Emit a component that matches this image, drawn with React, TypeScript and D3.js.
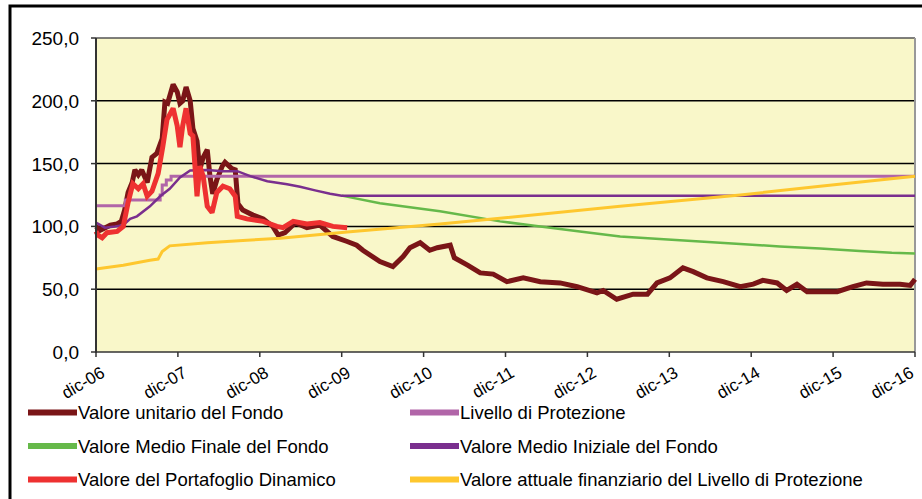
import * as d3 from "d3";

// x is months since dic-06, y is the value
const xTickLabels = ["dic-06", "dic-07", "dic-08", "dic-09", "dic-10", "dic-11", "dic-12", "dic-13", "dic-14", "dic-15", "dic-16"];
const yTicks = [0, 50, 100, 150, 200, 250];

const valoreUnitario: [number, number][] = [
  [0, 100], [0.6, 97], [1.0, 98], [2.1, 101], [3.1, 102], [3.7, 104], [4.2, 113], [4.7, 127],
  [5.3, 135], [5.7, 145], [6.2, 141], [6.7, 145], [7.5, 135], [8.2, 155], [8.9, 158], [9.7, 170],
  [10.1, 199], [10.5, 198], [11.3, 213], [11.9, 207], [12.3, 198], [12.7, 200], [13.2, 211], [13.8, 200],
  [14.2, 178], [14.8, 168], [15.2, 145], [15.7, 155], [16.3, 161], [16.7, 140], [17.1, 126], [17.7, 137],
  [18.5, 148], [18.9, 151], [19.9, 146], [20.4, 145], [20.8, 118], [21.5, 113], [23.0, 109], [24.5, 106],
  [25.9, 100], [26.7, 93], [27.7, 95], [29.2, 103], [30.9, 99], [32.8, 101], [34.7, 92], [36.8, 88],
  [38.2, 85], [39.1, 81], [41.6, 72], [43.5, 68], [45.0, 76], [46.0, 83], [47.5, 87], [48.9, 81],
  [50.0, 83], [51.9, 85], [52.5, 75], [54.5, 69], [56.3, 63], [58.2, 62], [60.2, 56], [62.6, 59],
  [65.1, 56], [68.0, 55], [70.5, 52], [73.4, 47], [74.3, 49], [76.3, 42], [78.7, 46], [80.8, 46],
  [82.2, 55], [84.1, 59], [86.0, 67], [87.5, 64], [89.5, 59], [91.9, 56], [94.4, 52], [96.3, 54],
  [97.7, 57], [99.8, 55], [101.2, 49], [102.7, 54], [104.2, 48], [107.1, 48], [108.6, 48], [110.9, 52],
  [112.9, 55], [115.3, 54], [117.8, 54], [119.3, 53], [120, 58],
];

const livelloProtezione: [number, number][] = [
  [0, 116.5], [4.3, 121], [9.4, 125], [9.7, 133], [10.3, 137], [11.0, 140], [120, 140],
];

const medioFinale: [number, number][] = [
  [36.0, 124.5], [41.6, 118.5], [50.4, 112], [59.2, 104], [65.1, 100], [70.9, 96], [76.8, 92],
  [82.6, 90], [88.5, 88], [94.4, 86], [100.2, 84], [106.1, 82.5], [111.9, 80.5], [116.6, 79], [120, 78.5],
];

const medioIniziale: [number, number][] = [
  [0, 103], [1.3, 99], [2.8, 100], [4.0, 101], [5.0, 106], [6.0, 108], [7.9, 116], [9.4, 124],
  [10.8, 130], [12.3, 139], [13.8, 144.5], [16.3, 145], [18.6, 144], [20.7, 144], [22.6, 140],
  [25.1, 136], [28.0, 133.5], [29.9, 131.5], [32.1, 128.7], [34.3, 126], [36.0, 124.5], [120, 124.5],
];

const portafoglioDinamico: [number, number][] = [
  [0, 96], [0.3, 93], [0.9, 91], [1.6, 95], [3.1, 96], [4.0, 100], [4.7, 119], [5.4, 134],
  [6.2, 130], [6.9, 134], [7.5, 124], [8.2, 128], [9.1, 142], [9.8, 164], [10.4, 185], [11.3, 194],
  [11.9, 180], [12.3, 163], [12.7, 180], [13.2, 194], [13.8, 174], [14.2, 172], [14.5, 148], [14.8, 124],
  [15.2, 148], [15.7, 140], [16.3, 116], [17.0, 111], [17.7, 127], [18.6, 132], [19.6, 130], [20.4, 124],
  [20.7, 108], [22.1, 106], [24.5, 104], [26.5, 100], [27.4, 99], [28.9, 104], [30.9, 102], [32.8, 103],
  [34.7, 100], [36.8, 99],
];

const valoreAttuale: [number, number][] = [
  [0, 66], [4.0, 69], [7.9, 73], [9.1, 74], [9.7, 80], [10.8, 84.5], [16.3, 87], [22.1, 89],
  [27.0, 90.6], [36.8, 95.5], [50.4, 102], [59.2, 106.5], [76.8, 116], [94.4, 125], [106.1, 132], [120, 140],
];

const series = [
  { label: "Valore unitario del Fondo", color: "#7a1517", width: 5, data: valoreUnitario, step: false },
  { label: "Livello di Protezione", color: "#b165a8", width: 3, data: livelloProtezione, step: true },
  { label: "Valore Medio Finale del Fondo", color: "#66b94a", width: 2.5, data: medioFinale, step: false },
  { label: "Valore Medio Iniziale del Fondo", color: "#7a2f8e", width: 2.5, data: medioIniziale, step: false },
  { label: "Valore del Portafoglio Dinamico", color: "#ee3131", width: 5, data: portafoglioDinamico, step: false },
  { label: "Valore attuale finanziario del Livello di Protezione", color: "#fec72e", width: 3, data: valoreAttuale, step: false },
];

const W = 922;
const H = 499;
const plot = { left: 96, right: 915, top: 38, bottom: 352 };
const font = "'Liberation Sans', Arial, sans-serif";

const itLocale = d3.formatLocale({ decimal: ",", thousands: ".", grouping: [3], currency: ["€", ""] });
const fmtY = itLocale.format(".1f");

export default function App() {
  const x = d3.scaleLinear().domain([0, 120]).range([plot.left, plot.right]);
  const y = d3.scaleLinear().domain([0, 250]).range([plot.bottom, plot.top]);
  const xTicks = xTickLabels.map((_, i) => i * 12);

  const lineFor = (step: boolean) =>
    d3
      .line<[number, number]>()
      .x((d) => x(d[0]))
      .y((d) => y(d[1]))
      .curve(step ? d3.curveStepAfter : d3.curveLinear);

  return (
    <svg
      width={W}
      height={H}
      style={{ position: "absolute", left: 0, top: 0, background: "#fff" }}
      fontFamily={font}
    >
      <rect x={10} y={6} width={1000} height={1000} fill="none" stroke="#000" strokeWidth={3} />

      <rect
        x={plot.left}
        y={plot.top}
        width={plot.right - plot.left}
        height={plot.bottom - plot.top}
        fill="#f9f7c9"
      />

      {yTicks.slice(1, -1).map((t) => (
        <line key={t} x1={plot.left} x2={plot.right} y1={y(t)} y2={y(t)} stroke="#000" strokeWidth={1.5} />
      ))}
      <line x1={plot.left} x2={plot.right} y1={plot.top} y2={plot.top} stroke="#555" strokeWidth={1.5} />
      <line x1={plot.right} x2={plot.right} y1={plot.top} y2={plot.bottom} stroke="#999" strokeWidth={2} />

      {series.map((s) => (
        <path
          key={s.label}
          d={lineFor(s.step)(s.data) ?? ""}
          fill="none"
          stroke={s.color}
          strokeWidth={s.width}
          strokeLinejoin="miter"
          strokeMiterlimit={2}
        />
      ))}

      <line x1={plot.left} x2={plot.left} y1={plot.top} y2={plot.bottom + 1} stroke="#333" strokeWidth={2} />
      <line x1={plot.left} x2={plot.right} y1={plot.bottom} y2={plot.bottom} stroke="#333" strokeWidth={1.5} />

      {yTicks.map((t) => (
        <g key={t}>
          <line x1={plot.left - 5} x2={plot.left} y1={y(t)} y2={y(t)} stroke="#333" strokeWidth={1.5} />
          <text x={79} y={y(t) + 7} textAnchor="end" fontSize={19} fill="#000">
            {fmtY(t)}
          </text>
        </g>
      ))}

      {xTicks.map((t, i) => {
        // last label is pulled in so it stays inside the frame
        const dx = i === xTicks.length - 1 ? 0 : 10;
        return (
          <g key={t}>
            <line x1={x(t)} x2={x(t)} y1={plot.bottom} y2={plot.bottom + 5} stroke="#333" strokeWidth={1.5} />
            <text
              transform={`translate(${x(t) + dx},${376}) rotate(-30)`}
              textAnchor="end"
              fontSize={17}
              fill="#000"
            >
              {xTickLabels[i]}
            </text>
          </g>
        );
      })}

      {series.map((s, i) => {
        const col = i % 2;
        const row = Math.floor(i / 2);
        const sx = col === 0 ? 28 : 410;
        const sy = 412.5 + row * 33.5;
        return (
          <g key={s.label}>
            <line x1={sx} x2={sx + 49} y1={sy} y2={sy} stroke={s.color} strokeWidth={6} />
            <text x={sx + 50} y={sy + 6.5} fontSize={18.5} fill="#000">
              {s.label}
            </text>
          </g>
        );
      })}
    </svg>
  );
}
